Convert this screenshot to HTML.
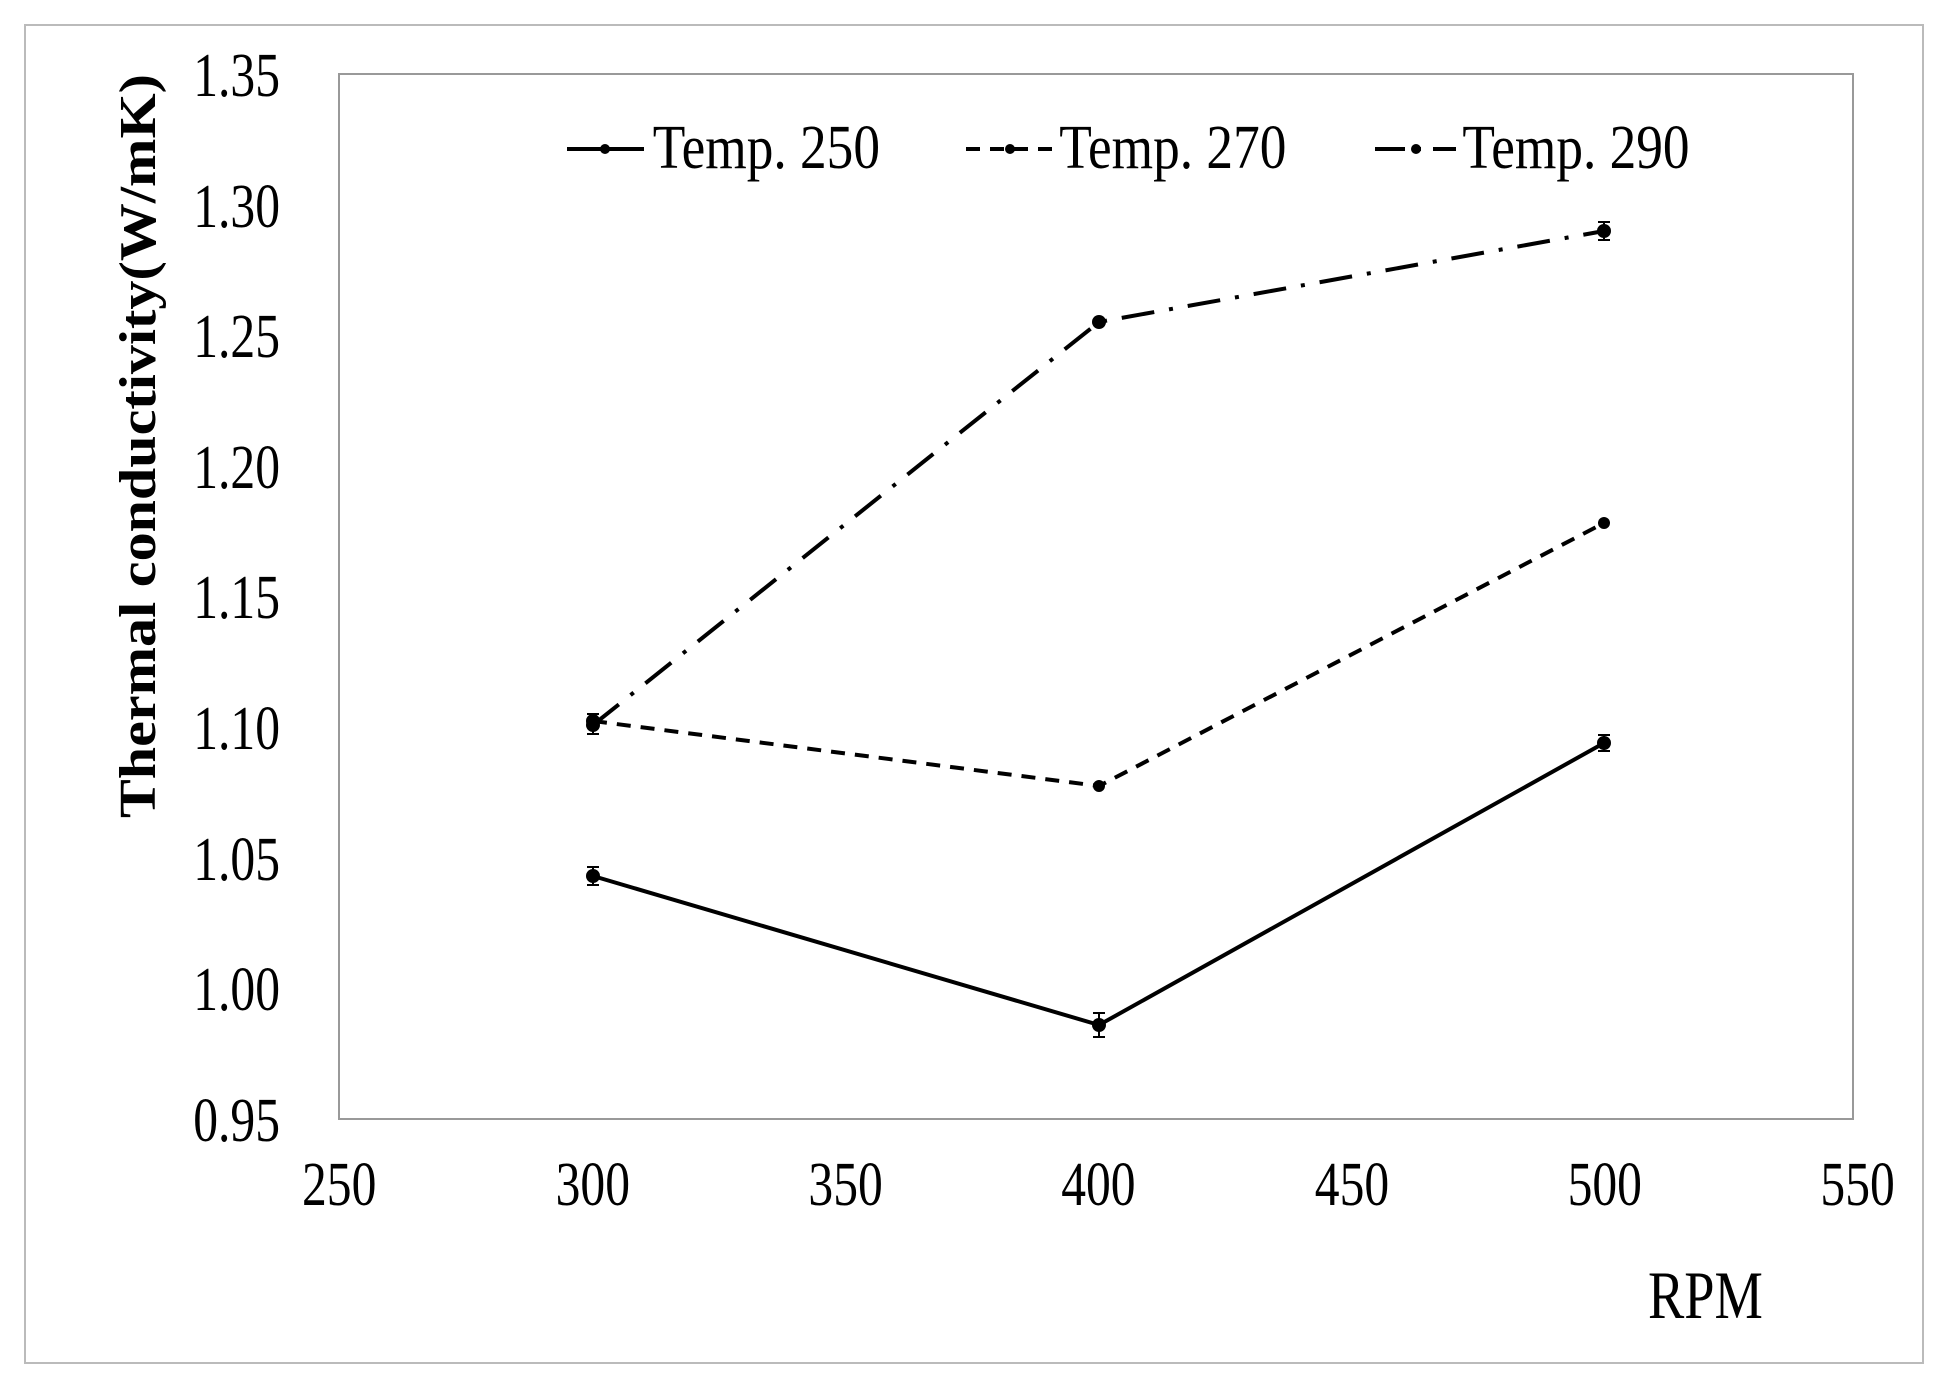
<!DOCTYPE html>
<html><head><meta charset="utf-8"><style>html,body{margin:0;padding:0;background:#fff}svg{display:block}</style></head>
<body>
<svg width="1943" height="1381" viewBox="0 0 1943 1381" xmlns="http://www.w3.org/2000/svg" font-family="'Liberation Serif', serif">
<rect x="25" y="25" width="1898" height="1338" fill="#fff" stroke="#bbb" stroke-width="2"/>
<rect x="339" y="74" width="1514" height="1045" fill="none" stroke="#999" stroke-width="2"/>
<g transform="scale(0.8,1)" font-size="62" fill="#000">
<g text-anchor="end">
<text x="350" y="96">1.35</text>
<text x="350" y="227">1.30</text>
<text x="350" y="357">1.25</text>
<text x="350" y="488">1.20</text>
<text x="350" y="618">1.15</text>
<text x="350" y="749">1.10</text>
<text x="350" y="880">1.05</text>
<text x="350" y="1010">1.00</text>
<text x="350" y="1141">0.95</text>
</g>
<g text-anchor="middle">
<text x="424" y="1205">250</text>
<text x="741" y="1205">300</text>
<text x="1057" y="1205">350</text>
<text x="1373" y="1205">400</text>
<text x="1690" y="1205">450</text>
<text x="2006" y="1205">500</text>
<text x="2322" y="1205">550</text>
</g>
<text x="2060" y="1318" font-size="68">RPM</text>
<text x="816" y="168" textLength="284" lengthAdjust="spacingAndGlyphs">Temp. 250</text>
<text x="1324" y="168" textLength="284" lengthAdjust="spacingAndGlyphs">Temp. 270</text>
<text x="1828" y="168" textLength="284" lengthAdjust="spacingAndGlyphs">Temp. 290</text>
</g>
<text transform="translate(155,446) rotate(-90)" text-anchor="middle" font-weight="bold" font-size="52" textLength="744" lengthAdjust="spacingAndGlyphs">Thermal conductivity(W/mK)</text>
<g stroke="#000" stroke-width="4" fill="none">
<line x1="567" y1="149" x2="644" y2="149"/>
<line x1="966" y1="149" x2="1053" y2="149" stroke-dasharray="14,10"/>
<line x1="1375" y1="149" x2="1456" y2="149" stroke-dasharray="30,12,4,12"/>
<polyline points="593,876 1099,1025 1604,743"/>
<polyline points="593,721 1099,786 1604,523" stroke-dasharray="14,10"/>
<polyline points="593,725 1099,322 1604,231" stroke-dasharray="33,15,4,15"/>
</g>
<g stroke="#000" stroke-width="2">
<line x1="593" y1="867" x2="593" y2="885"/><line x1="587" y1="867" x2="599" y2="867"/><line x1="587" y1="885" x2="599" y2="885"/>
<line x1="1099" y1="1013" x2="1099" y2="1037"/><line x1="1093" y1="1013" x2="1105" y2="1013"/><line x1="1093" y1="1037" x2="1105" y2="1037"/>
<line x1="1604" y1="735" x2="1604" y2="751"/><line x1="1598" y1="735" x2="1610" y2="735"/><line x1="1598" y1="751" x2="1610" y2="751"/>
<line x1="593" y1="714" x2="593" y2="734"/><line x1="587" y1="714" x2="599" y2="714"/><line x1="587" y1="734" x2="599" y2="734"/>
<line x1="1604" y1="222" x2="1604" y2="240"/><line x1="1598" y1="222" x2="1610" y2="222"/><line x1="1598" y1="240" x2="1610" y2="240"/>
</g>
<g fill="#000">
<circle cx="605" cy="149" r="5"/><circle cx="1010" cy="149" r="5"/><circle cx="1416" cy="149" r="5"/>
<circle cx="593" cy="876" r="7"/><circle cx="1099" cy="1025" r="7"/><circle cx="1604" cy="743" r="7"/>
<circle cx="593" cy="721" r="7"/><circle cx="1099" cy="786" r="6"/><circle cx="1604" cy="523" r="6"/>
<circle cx="593" cy="725" r="7"/><circle cx="1099" cy="322" r="7"/><circle cx="1604" cy="231" r="7"/>
</g>
</svg>
</body></html>
